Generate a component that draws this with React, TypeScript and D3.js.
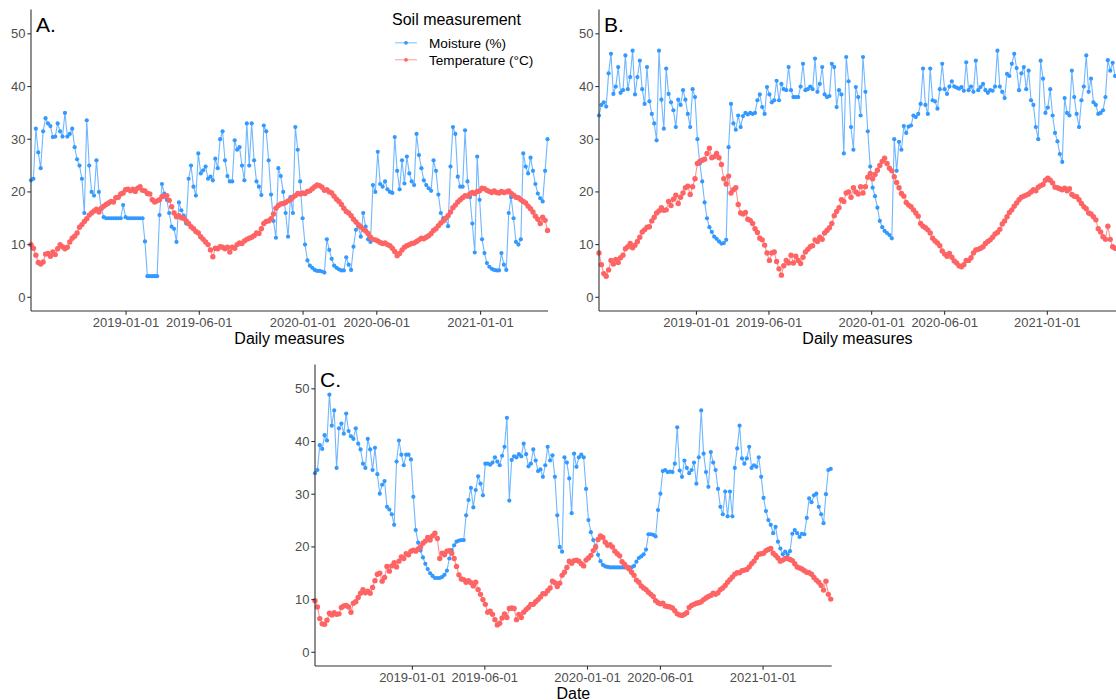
import React from 'react';
import * as d3 from 'd3';

// ---------- DATA (one sample every 5 days) ----------
const STEP_DAYS = 5;
const SERIES_NAMES = ['Moisture (%)', 'Temperature (°C)'];
const TICK_DATES = ['2019-01-01', '2019-06-01', '2020-01-01', '2020-06-01', '2021-01-01'];
const Y_TICKS = [0, 10, 20, 30, 40, 50];

const A_MOIST = [
  22.2, 22.5, 32, 27.5, 24.5, 31.5, 34, 33, 32.5, 30.4,
  30.5, 33, 31.5, 30.5, 35, 30.5, 31, 32, 28.5, 26.2,
  25, 22.5, 16, 33.6, 25, 20, 19.3, 26, 20, 16.8,
  15.2, 15, 15, 15, 15, 15, 15, 15, 17.5, 15.2,
  15, 15, 15, 15, 15, 15, 15, 10.6, 4, 4,
  4, 4, 4, 15.6, 21.5, 19.7, 18.5, 16, 13.4, 13,
  10.5, 18, 16.5, 15.5, 14, 22.5, 25, 21, 19.3, 27.3,
  23.5, 24.1, 24.8, 22.5, 22.9, 22.2, 26.3, 24.5, 30, 31.5,
  26, 23, 22, 22, 29.8, 28, 28.5, 25, 22.2, 33,
  25, 33, 26, 22, 21, 19.4, 32.6, 31.5, 26, 19.5,
  14.5, 11.3, 24.5, 23, 20, 16, 11.5, 19, 16, 32.3,
  28, 22, 15, 10, 7, 6, 5.6, 5.2, 5, 5,
  4.9, 4.7, 11, 9, 7.3, 6, 5.6, 5.3, 5.1, 5.1,
  7.6, 6.2, 5.2, 9.6, 12.8, 13.5, 11.5, 16, 13.4, 11,
  10.5, 21.3, 20, 27.6, 21.5, 21, 22, 20.5, 20, 19.8,
  30.4, 24, 20.5, 26, 21.6, 26.7, 23.5, 22, 21.3, 31,
  27, 24.5, 22.2, 21.3, 20.7, 20.2, 26, 24, 19.5, 16,
  15, 15, 13.5, 24.8, 32.3, 31, 22.9, 21, 21, 31.7,
  22, 19, 14, 8.5, 26.7, 18.5, 11, 8.4, 6.5, 5.8,
  5.4, 5.2, 5.1, 5.1, 8.4, 6.2, 5.2, 16, 19, 15,
  10.5, 10, 11, 27.3, 24.8, 23.5, 26.5, 24, 21.5, 19.7,
  18.8, 18.2, 24, 30,
];

const A_TEMP = [
  10, 9.3, 8, 6.6, 6.3, 6.7, 8.2, 8.3, 7.8, 8.6,
  8.1, 9.2, 10, 9.6, 9.2, 9.5, 10.5, 11.2, 11.6, 12.2,
  13.3, 13.8, 14.4, 14.9, 15.6, 16, 16.4, 16.7, 16.2, 16.9,
  17.3, 17.6, 17.9, 18.2, 18.1, 18.9, 19, 19.6, 19.8, 20.4,
  20.5, 20.2, 20.5, 20.1, 20.7, 21, 20.3, 20.2, 19.7, 19.6,
  18.5, 18.1, 18.3, 18.5, 19.1, 19.2, 19.3, 18.4, 17.2, 16,
  15.3, 15.5, 15.1, 15, 14.5, 14, 13.4, 13, 12.5, 12.2,
  11.5, 11, 10.5, 10, 9, 7.7, 9.3, 9.2, 9.6, 9.5,
  9.2, 9.5, 8.6, 9.5, 9.3, 10, 10.3, 10.2, 10.7, 11,
  11.2, 11.4, 11.7, 12.2, 12.1, 13, 14, 14.4, 14.5, 14.9,
  15.8, 16.9, 17.4, 17.7, 17.8, 18, 18.3, 18.5, 19, 19.3,
  19.7, 19.6, 19.8, 19.7, 20.1, 20.2, 20.6, 21, 21.3, 21.2,
  20.9, 20.3, 20.4, 20, 19.8, 19.2, 18.6, 18.2, 17.6, 16.9,
  16.3, 16, 15.5, 14.8, 14.3, 13.8, 13.4, 12.9, 12.6, 12.1,
  11.4, 11, 10.9, 10.7, 10.4, 10.2, 10.3, 10, 9.8, 9.3,
  8.7, 7.9, 8.3, 9, 9.5, 9.8, 10, 10.2, 10.3, 10.6,
  10.9, 11.2, 11.1, 11.4, 11.7, 12.1, 12.7, 13, 13.6, 14.1,
  14.5, 15, 15.5, 16.2, 17, 17.5, 18.1, 18.5, 18.9, 19.3,
  19.2, 19.6, 19.9, 19.7, 20.1, 20.2, 20.7, 20.6, 20.3, 20.1,
  19.9, 20.2, 19.9, 19.8, 20.1, 19.9, 20, 20.2, 19.7, 19.4,
  19, 18.9, 18.5, 18.2, 17.9, 17.3, 16.8, 16.2, 15.4, 14.8,
  14, 15.2, 14.6, 12.7,
];

const B_MOIST = [
  34.5, 36.5, 37, 36.2, 42.5, 46.2, 38.6, 40, 43.7, 38.8,
  39.3, 45.9, 39.5, 41.8, 46.8, 38.5, 41.8, 44.9, 39.5, 36.7,
  43.7, 37.2, 34.8, 33, 29.8, 46.8, 37.5, 32, 43.4, 38.6,
  37, 35.5, 32.3, 37.5, 36.5, 39.3, 37.5, 34.8, 32.3, 39.5,
  38, 30, 25.4, 22, 18, 15, 13.3, 12.4, 11.5, 11.1,
  10.6, 10.2, 10.3, 10.9, 28.5, 36.7, 33, 31.8, 34.5, 32.3,
  34.4, 35, 34.7, 35, 34.8, 35, 37.4, 38.5, 36.1, 34.8,
  39.9, 38.5, 37, 37.4, 41.1, 37.4, 40.5, 39.5, 39.3, 43.7,
  39.3, 38, 38, 38, 40, 44.3, 39.3, 39.5, 40, 39.5,
  45.3, 39, 40.5, 43.7, 38.5, 38, 38.2, 44.3, 43.7, 36.1,
  39.3, 38.5, 27.3, 45.6, 41, 32.3, 28, 39.9, 38, 34.5,
  45.6, 39, 31.5, 24.8, 20.8, 19.2, 17, 14.5, 13.3, 12.6,
  12.2, 11.8, 11.2, 30, 24, 29.5, 28, 32.5, 31.2, 32.4,
  32.6, 34.5, 34.2, 34.8, 36.7, 43.4, 36.5, 34.8, 43.4, 37.4,
  37.2, 35.8, 39.5, 44.3, 39.5, 38.6, 40, 41, 40, 39.8,
  39.6, 39.9, 39.2, 44.6, 39.3, 40, 39, 44.9, 39.3, 39.9,
  40.5, 39.3, 38.8, 39.3, 39.2, 40, 46.8, 40, 39, 37.8,
  42.4, 42, 44.3, 46.2, 43.5, 39.3, 42.5, 43.7, 39.5, 43,
  37.4, 36.5, 32.3, 30, 44.9, 41.5, 35, 36, 39.5, 34.5,
  31.2, 29.6, 27.2, 25.7, 37.8, 35, 34.5, 43, 38, 34.8,
  32.3, 37.4, 40, 45.9, 39, 41.5, 37, 36.5, 34.8, 35,
  35.5, 38, 45, 43, 44.5, 42,
];

const B_TEMP = [
  8.4, 6.2, 4.5, 4, 5.2, 7, 6.3, 7.2, 6.6, 7.5,
  8, 9.2, 9.6, 10.2, 9.4, 9.9, 10.6, 11.4, 12.4, 12.8,
  13.3, 13.4, 14.5, 15.2, 16, 16.4, 17, 16.5, 16.6, 18.2,
  17.4, 18.6, 19.4, 17.8, 19, 19.8, 20.8, 21.1, 19.5, 21,
  22.5, 25.4, 25.8, 26, 26.2, 27.3, 28.3, 26.5, 26.7, 27.3,
  26.5, 25.2, 22.5, 21.5, 23, 19.8, 20.4, 20.8, 17.6, 16,
  15.8, 16.1, 14.8, 14.6, 14, 13, 12.3, 11.2, 10.9, 9.9,
  8.4, 7, 8.4, 8.6, 6.8, 5.4, 4.2, 6, 7, 6.5,
  8, 6.5, 7.8, 7, 6.4, 7.6, 8.6, 9.1, 9.6, 9.8,
  10.9, 10.6, 11.4, 11, 12.2, 12.7, 13.2, 14, 15.5, 16.3,
  17, 18.5, 18.2, 19.8, 20, 19, 20.8, 20, 19.6, 21,
  19.8, 21, 22.8, 23.5, 22.5, 23.3, 24.1, 25, 25.8, 26.4,
  25.4, 24.5, 24, 22.9, 21.8, 20.8, 19.7, 19.2, 18, 17.5,
  17.2, 16.6, 16, 15.4, 14, 13.5, 13.2, 12.8, 12.2, 11.2,
  10.7, 10.3, 9.8, 8.8, 8.2, 7.8, 8.3, 7.6, 6.9, 6.5,
  6, 5.8, 6.2, 7, 7, 7.5, 8.4, 9, 9.1, 9.3,
  9.6, 10.2, 10.6, 10.9, 11.4, 12, 12.3, 12.9, 13.9, 14.5,
  15.3, 16.1, 16.6, 17.3, 17.9, 18.5, 19, 19.2, 19.4, 19.6,
  20, 20.4, 20.2, 20.9, 21.2, 21.4, 22.2, 22.6, 22.2, 21.7,
  20.9, 20.8, 20.6, 20.4, 20.7, 20.2, 20.6, 19.5, 19.2, 19.1,
  18.5, 17.8, 17.2, 16.8, 16, 15.8, 15.3, 14.7, 13, 12.4,
  11.5, 11, 13.5, 11, 9.6, 9.3,
];

const C_MOIST = [
  34, 34.6, 39.3, 38.6, 41.2, 40.2, 48.9, 43, 45.9, 35,
  42.5, 43.4, 41.5, 45.3, 42, 41, 40.5, 42.5, 39.6, 38.5,
  35.8, 35, 40.5, 38.5, 34.6, 38.8, 33.8, 30.1, 31.8, 32.5,
  27.6, 27.1, 26.2, 24.2, 36.2, 40.2, 37.5, 35.5, 37.5, 37.5,
  36.6, 29.5, 23.2, 20.8, 19.3, 18, 16.8, 15.8, 15, 14.5,
  14.1, 14.1, 14.1, 14.3, 14.7, 15.5, 17.8, 19.4, 20.3, 21,
  21.2, 21.3, 21.3, 26, 28.9, 31.2, 27.5, 30.8, 33.4, 32,
  29.8, 35.8, 35.8, 35.6, 36, 37, 36.2, 35.5, 37.3, 39,
  44.5, 28.8, 36.5, 37.2, 37, 37.6, 37.2, 39.6, 37.6, 35.3,
  35.8, 38.5, 36.4, 34.4, 34.7, 33.3, 35.5, 39, 36.4, 37.4,
  33.3, 26, 20, 19.1, 37, 36, 33, 26.4, 37.7, 35.2,
  37, 37.5, 37, 31, 25.1, 22.8, 21.3, 20.2, 18.5, 17.3,
  16.6, 16.3, 16.2, 16.1, 16.1, 16.1, 16.1, 16.1, 16.1, 16.1,
  16.1, 16.1, 16.1, 16.4, 17.2, 17.9, 18.2, 18.6, 19.5, 22.4,
  22.4, 22.3, 22, 27, 30.1, 34.4, 34.6, 34.2, 34.3, 34.2,
  35.8, 42.7, 34.5, 33.3, 36.4, 35, 34, 34.6, 36, 32,
  37, 45.9, 37.7, 34.2, 31.4, 38, 36, 34.6, 31, 27.6,
  26.2, 30.5, 25.8, 30.5, 25.8, 35, 38.7, 43, 36.8, 35.8,
  36.8, 39, 35, 35.5, 35.2, 37, 33.3, 29.3, 26.8, 25.1,
  24.2, 22.6, 23.8, 21, 19.7, 18.6, 19.1, 18.6, 19.2, 22.5,
  23.2, 22.6, 21.9, 22.5, 22.4, 25.5, 29.2, 28.5, 29.8, 30.1,
  27.6, 26.2, 24.5, 30, 34.6, 34.8,
];

const C_TEMP = [
  9.8, 8.6, 6.4, 5.4, 5.3, 6.1, 7.4, 7.1, 7.5, 7.2,
  7.3, 8.5, 8.8, 8.9, 8.6, 7.6, 9.3, 9.6, 10.4, 11.2,
  11.9, 11.3, 11.6, 11.2, 12.3, 13.6, 14.8, 15, 13.5, 14.2,
  16.3, 15.4, 16.4, 17, 16.2, 17.3, 18.1, 17.8, 18.7, 18.5,
  19.2, 19.4, 19.2, 19.6, 20, 20.7, 21.1, 21.8, 21.3, 22.1,
  22.6, 21.6, 17.8, 18.8, 18.5, 19.2, 19.3, 18.8, 17.8, 16.3,
  14.7, 13.9, 13.8, 13.3, 13.6, 13.2, 12.6, 13.3, 11.9, 11,
  10, 9.1, 7.6, 7.8, 7.2, 6.2, 5.2, 5.5, 6.5, 7.3,
  6.6, 8.3, 8.4, 8.3, 6.2, 7.2, 6.6, 7.6, 8.1, 8.5,
  9.1, 9.1, 9.6, 10, 10.5, 11.1, 11.1, 11.7, 12.2, 13.5,
  13.2, 12.5, 13.1, 14.6, 15.2, 16.1, 17.3, 16.9, 17.4, 17.5,
  17.3, 16.8, 16.4, 17.5, 17.9, 18.4, 19.3, 20, 21.4, 22.1,
  21.8, 20.9, 20.3, 20.4, 20, 19.2, 18.7, 18.3, 17.2, 16.7,
  16.2, 15.8, 15.2, 14.6, 13.7, 13.3, 12.6, 12.2, 11.9, 11.4,
  11, 10.6, 9.8, 9.4, 9.2, 9.3, 8.8, 8.7, 8.6, 8.4,
  7.9, 7.3, 7.1, 7, 7.2, 7.5, 8.5, 8.9, 9.1, 9.3,
  9.4, 9.6, 10, 10.3, 10.6, 10.8, 11.2, 11, 11.3, 11.9,
  12.2, 12.7, 13.3, 13.8, 14.3, 14.8, 15.1, 15.1, 15.5, 15.6,
  15.7, 16.2, 16.8, 17.3, 18, 18.6, 18.7, 18.8, 19.3, 19.5,
  19.7, 18.8, 18.4, 17.9, 17.3, 17.5, 17.8, 17.8, 17.6, 17.4,
  16.8, 16.2, 16, 15.8, 15.5, 15.2, 15.1, 14.8, 14.2, 13.7,
  13.3, 12.7, 11.8, 13.5, 11, 10.1,
];

// ---------- STYLE / LAYOUT ----------
const BLUE = '#3399ff';
const RED = '#ff6464';
const FONT = '"Liberation Sans", Arial, Helvetica, sans-serif';
const AXIS_COL = '#333333';
const TICK_TEXT = '#4d4d4d';

const parse = d3.utcParse('%Y-%m-%d');

type PanelSpec = {
  label: string;
  moist: number[];
  temp: number[];
  start: string;
  end: string;
  left: number;
  right: number;
  top: number;
  bottom: number;
  xTitle: string;
};

const PANELS: PanelSpec[] = [
  { label: 'A.', moist: A_MOIST, temp: A_TEMP, start: '2018-06-19', end: '2021-05-20',
    left: 31, right: 548, top: 9.6, bottom: 311, xTitle: 'Daily measures' },
  { label: 'B.', moist: B_MOIST, temp: B_TEMP, start: '2018-06-12', end: '2021-05-24',
    left: 599, right: 1116, top: 9.6, bottom: 311, xTitle: 'Daily measures' },
  { label: 'C.', moist: C_MOIST, temp: C_TEMP, start: '2018-06-12', end: '2021-05-24',
    left: 315, right: 831.7, top: 364.6, bottom: 666, xTitle: 'Date' },
];

function Panel({ p }: { p: PanelSpec }) {
  const start = parse(p.start)!;
  const x = d3.scaleUtc().domain([start, parse(p.end)!]).range([p.left, p.right]);
  const y = d3.scaleLinear().domain([-2.6, 54.6]).range([p.bottom, p.top]);
  const toPts = (vals: number[]) =>
    vals.map((v, i) => ({ d: d3.utcDay.offset(start, i * STEP_DAYS), v }));
  const moist = toPts(p.moist);
  const temp = toPts(p.temp);
  const line = d3
    .line<{ d: Date; v: number }>()
    .x((q) => x(q.d))
    .y((q) => y(q.v));
  const cx = (p.left + p.right) / 2;
  return (
    <g>
      {/* lines (thin, light) */}
      <path d={line(moist) || ''} fill="none" stroke={BLUE} strokeOpacity={0.7} strokeWidth={1.1} />
      <path d={line(temp) || ''} fill="none" stroke={RED} strokeOpacity={0.7} strokeWidth={1.1} />
      {/* points */}
      <g fill={BLUE}>
        {moist.map((q, i) => (
          <circle key={i} cx={x(q.d)} cy={y(q.v)} r={2.1} />
        ))}
      </g>
      <g fill={RED}>
        {temp.map((q, i) => (
          <circle key={i} cx={x(q.d)} cy={y(q.v)} r={2.7} />
        ))}
      </g>

      {/* axes */}
      <line x1={p.left} x2={p.left} y1={p.top} y2={p.bottom} stroke={AXIS_COL} strokeWidth={1.1} />
      <line x1={p.left} x2={p.right} y1={p.bottom} y2={p.bottom} stroke={AXIS_COL} strokeWidth={1.1} />
      {Y_TICKS.map((t) => (
        <g key={'y' + t}>
          <line x1={p.left - 3.7} x2={p.left} y1={y(t)} y2={y(t)} stroke={AXIS_COL} strokeWidth={1.1} />
          <text x={p.left - 5.5} y={y(t)} dy="0.35em" textAnchor="end" fontSize={13} fill={TICK_TEXT}
            fontFamily={FONT}>
            {t}
          </text>
        </g>
      ))}
      {TICK_DATES.map((t) => {
        const xx = x(parse(t)!);
        return (
          <g key={'x' + t}>
            <line x1={xx} x2={xx} y1={p.bottom} y2={p.bottom + 3.7} stroke={AXIS_COL} strokeWidth={1.1} />
            <text x={xx} y={p.bottom + 16} textAnchor="middle" fontSize={13} fill={TICK_TEXT}
              fontFamily={FONT}>
              {t}
            </text>
          </g>
        );
      })}
      <text x={cx} y={p.bottom + 32.5} textAnchor="middle" fontSize={16} fill="#000" fontFamily={FONT}>
        {p.xTitle}
      </text>
      <text x={p.left + 5} y={p.top + 22.5} fontSize={21} fill="#000" fontFamily={FONT}>
        {p.label}
      </text>
    </g>
  );
}

function Legend() {
  const items = [
    { name: SERIES_NAMES[0], color: BLUE, y: 42.8 },
    { name: SERIES_NAMES[1], color: RED, y: 59.8 },
  ];
  return (
    <g fontFamily={FONT}>
      <text x={392} y={25} fontSize={16} fill="#000">
        Soil measurement
      </text>
      {items.map((it) => (
        <g key={it.name}>
          <line x1={395} x2={417} y1={it.y} y2={it.y} stroke={it.color} strokeOpacity={0.6} strokeWidth={1.1} />
          <circle cx={406} cy={it.y} r={1.9} fill={it.color} />
          <text x={429} y={it.y} dy="0.36em" fontSize={13.6} fill="#000">
            {it.name}
          </text>
        </g>
      ))}
    </g>
  );
}

export default function App() {
  return (
    <div style={{ position: 'absolute', left: 0, top: 0, width: 1116, height: 700, background: '#fff' }}>
      <svg width={1116} height={700} viewBox="0 0 1116 700" style={{ display: 'block' }}>
        <rect width={1116} height={700} fill="#fff" />
        {PANELS.map((p) => (
          <Panel key={p.label} p={p} />
        ))}
        <Legend />
      </svg>
    </div>
  );
}
